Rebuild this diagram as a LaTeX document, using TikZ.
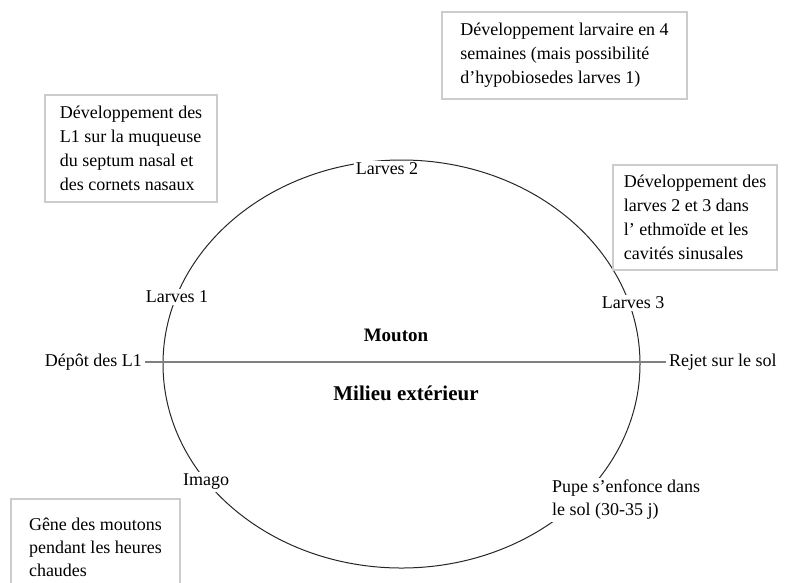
\documentclass[tikz,border=0pt]{standalone}
\usepackage{fontspec}
\setmainfont{Liberation Serif}
\usepackage{tikz}

\begin{document}
\begin{tikzpicture}[x=1pt,y=-1pt,font=\fontsize{18}{24}\selectfont,
				note/.style={rectangle, draw=gray!40, line width=1.2pt, align=left},
				stage/.style={fill=white, inner sep=2pt},
				milieu/.style={font=\fontsize{21}{24}\selectfont\bfseries}]
	\clip (0,0) rectangle (786,582);
	% the cycle
	\coordinate (C) at (401.5,364);
	\draw[black!85, line width=1pt] (C) ellipse [x radius=238.5pt, y radius=204pt];
	\node[stage] (L2) at (387,169) {Larves 2};
	\node[stage] (L1) at (177,297) {Larves 1};
	\node[stage] (L3) at (633,303) {Larves 3};
	\node[stage] (Im) at (206,482) {Imago};
	\node[stage, anchor=west, align=left, font=\fontsize{18}{23}\selectfont] (Pu) at (550,500) {Pupe s'enfonce dans\\le sol (30-35 j)};
	% the border between sheep and ground
	\node[anchor=east, inner sep=3pt] (Dep) at (145,362) {Dépôt des L1};
	\node[anchor=west, inner sep=3pt] (Rej) at (666,362) {Rejet sur le sol};
	\draw[-, color=gray, line width=2pt] (Dep) -- (Rej);
	\node[milieu, font=\fontsize{19}{24}\selectfont\bfseries] (Mou) at (396,335) {Mouton};
	\node[milieu] (Mil) at (406,393) {Milieu extérieur};
	% notes
	\node[note, minimum width=172, minimum height=107] (N1) at (131,148.5)
		{Développement des\\L1 sur la muqueuse\\du septum nasal et\\des cornets nasaux};
	\node[note, minimum width=245, minimum height=87] (N2) at (564.5,55.5)
		{Développement larvaire en 4\\semaines (mais possibilité\\d'hypobiosedes larves 1)};
	\node[note, minimum width=164, minimum height=105] (N3) at (695,217.5)
		{Développement des\\larves 2 et 3 dans\\l' ethmoïde et les\\cavités sinusales};
	\node[note, minimum width=169, minimum height=96, font=\fontsize{18}{23}\selectfont] (N4) at (95.5,547)
		{Gêne des moutons\\pendant les heures\\chaudes};
\end{tikzpicture}
\end{document}
